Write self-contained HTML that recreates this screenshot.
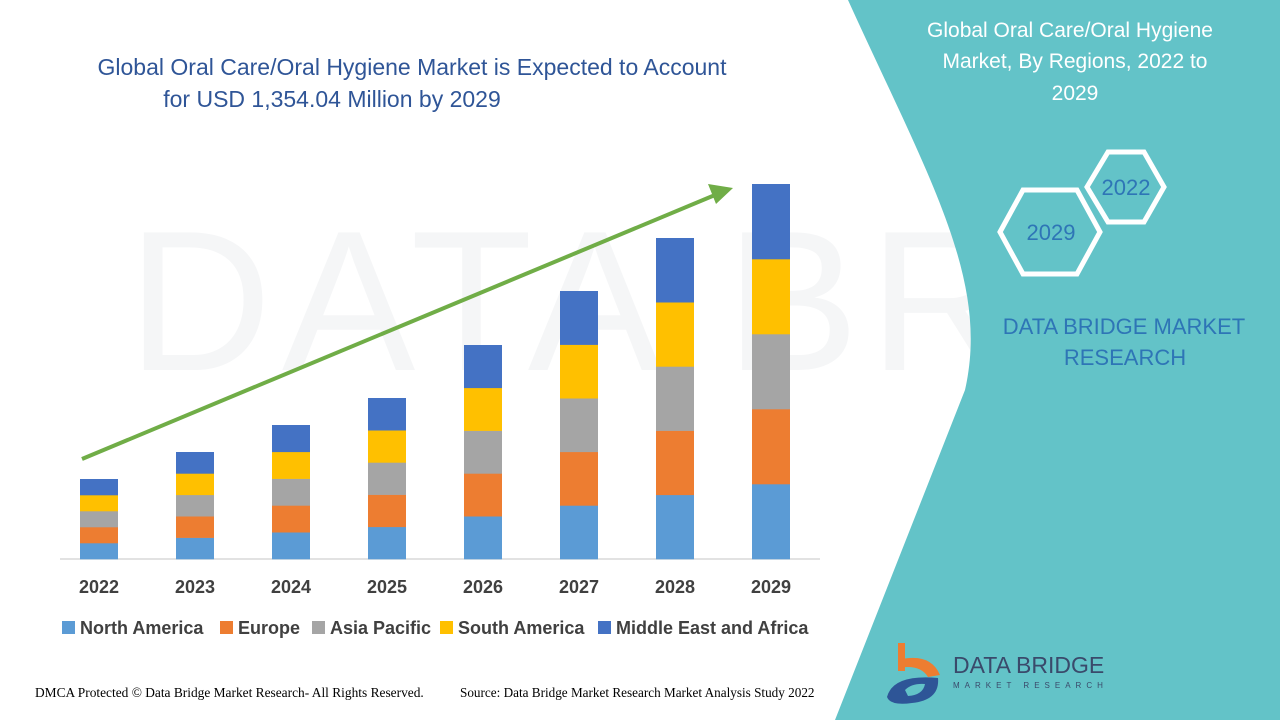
<!DOCTYPE html>
<html><head><meta charset="utf-8"><style>
body{margin:0;width:1280px;height:720px;overflow:hidden;background:#fff;font-family:"Liberation Sans",sans-serif;}
</style></head><body>
<svg width="1280" height="720" viewBox="0 0 1280 720" xmlns="http://www.w3.org/2000/svg" style="position:absolute;left:0;top:0">
<rect width="1280" height="720" fill="#fff"/>
<text x="840" y="370" font-size="200" fill="#f5f6f7" font-family="Liberation Sans" text-anchor="middle" letter-spacing="10">DATA BRIDGE</text>
<path d="M848,0 C930,180 990,280 965,390 L835,720 L1280,720 L1280,0 Z" fill="#63c3c8"/>
<g font-family="Liberation Sans" fill="#fff" font-size="21" text-anchor="middle">
<text x="1070" y="37">Global Oral Care/Oral Hygiene</text>
<text x="1075" y="68">Market, By Regions, 2022 to</text>
<text x="1075" y="100">2029</text>
</g>
<polygon points="1087,187 1108,152 1144,152 1164,187 1144,222 1108,222" fill="none" stroke="#fff" stroke-width="5"/>
<polygon points="1000,232 1023,190 1077,190 1100,232 1077,274 1023,274" fill="none" stroke="#fff" stroke-width="5"/>
<text x="1126" y="195" font-size="22" fill="#2e75b6" text-anchor="middle">2022</text>
<text x="1051" y="240" font-size="22" fill="#2e75b6" text-anchor="middle">2029</text>
<text x="1124" y="334" font-size="22" fill="#2e75b6" text-anchor="middle">DATA BRIDGE MARKET</text>
<text x="1125" y="365" font-size="22" fill="#2e75b6" text-anchor="middle">RESEARCH</text>
<g font-size="23" fill="#2f5597" text-anchor="middle">
<text x="412" y="75">Global Oral Care/Oral Hygiene Market is Expected to Account</text>
<text x="332" y="107">for USD 1,354.04 Million by 2029</text>
</g>
<line x1="60" y1="559" x2="820" y2="559" stroke="#d9d9d9" stroke-width="1.5"/>
<g id="bars"></g>
<line x1="82" y1="459" x2="715" y2="195" stroke="#70ad47" stroke-width="4"/>
<polygon points="733,188 708,184 716,204" fill="#70ad47"/>
<g font-size="18" font-weight="bold" fill="#404040" text-anchor="middle">
<text x="99" y="593">2022</text><text x="195" y="593">2023</text><text x="291" y="593">2024</text><text x="387" y="593">2025</text><text x="483" y="593">2026</text><text x="579" y="593">2027</text><text x="675" y="593">2028</text><text x="771" y="593">2029</text>
</g>
<g font-size="18" font-weight="bold" fill="#404040">
<rect x="62" y="621" width="13" height="13" fill="#5b9bd5"/><text x="80" y="634">North America</text>
<rect x="220" y="621" width="13" height="13" fill="#ed7d31"/><text x="238" y="634">Europe</text>
<rect x="312" y="621" width="13" height="13" fill="#a5a5a5"/><text x="330" y="634">Asia Pacific</text>
<rect x="440" y="621" width="13" height="13" fill="#ffc000"/><text x="458" y="634">South America</text>
<rect x="598" y="621" width="13" height="13" fill="#4472c4"/><text x="616" y="634">Middle East and Africa</text>
</g>
<text x="35" y="697" font-size="13.4" font-family="Liberation Serif" fill="#000">DMCA Protected © Data Bridge Market Research- All Rights Reserved.</text>
<text x="460" y="697" font-size="13.2" font-family="Liberation Serif" fill="#000">Source: Data Bridge Market Research Market Analysis Study 2022</text>
<rect x="898" y="643" width="7" height="28" fill="#ed7d31"/>
<path d="M898,660 Q930,652 940,675 L928,677 Q920,664 898,668 Z" fill="#ed7d31"/>
<path d="M887,697 Q893,674 938,678 Q940,700 912,703 Q890,706 887,697 Z" fill="#2e5597"/>
<path d="M905,690 Q912,683 925,684 Q923,695 908,696 Z" fill="#63c3c8"/>
<text x="953" y="673" font-size="23" fill="#3a4a6b" font-family="Liberation Sans">DATA BRIDGE</text>
<text x="953" y="688" font-size="8" fill="#3a4a6b" letter-spacing="5">MARKET RESEARCH</text>
</svg>
<script>
var tops=[479,452,425,398,345,291,238,184],cols=["#5b9bd5","#ed7d31","#a5a5a5","#ffc000","#4472c4"],g=document.getElementById("bars"),s="";
for(var i=0;i<8;i++){var x=80+96*i,h=(559-tops[i])/5;for(var j=0;j<5;j++){s+='<rect x="'+x+'" y="'+(559-h*(j+1))+'" width="38" height="'+(h+0.3)+'" fill="'+cols[j]+'"/>';}}
g.innerHTML=s;
</script>
</body></html>
